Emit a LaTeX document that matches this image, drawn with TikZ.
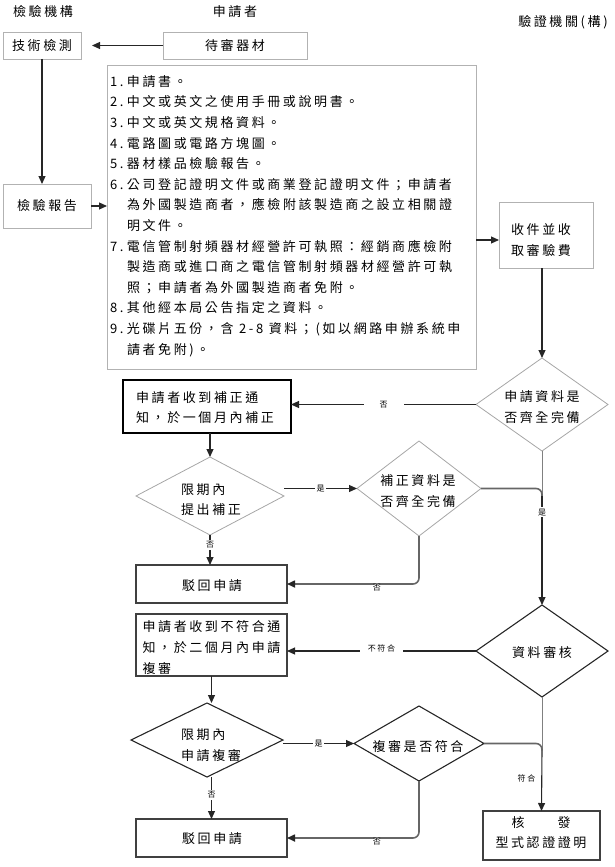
\documentclass[tikz,border=0pt]{standalone}
\usepackage{fontspec}
\setmainfont{Noto Sans CJK TC}[LetterSpace=20]
\usetikzlibrary{shapes.geometric,arrows.meta,calc}
\begin{document}
\begin{tikzpicture}[x=1pt,y=-1pt,
  every node/.style={font=\fontsize{13}{20.6}\selectfont, inner sep=0pt, outer sep=0pt, text=black},
  lbox/.style={rectangle, draw=black!30, line width=0.8pt},
  dbox/.style={rectangle, draw=black!75, line width=1.2pt},
  tbox/.style={rectangle, draw=black, line width=1.8pt},
  ldia/.style={diamond, draw=black!35, line width=0.8pt},
  ddia/.style={diamond, draw=black!85, line width=1.1pt},
  arr/.style={-{Triangle[length=8pt,width=7pt]}, line width=1.1pt, draw=black!85},
  garr/.style={line width=1.6pt, draw=black!60, rounded corners=6pt},
  gline/.style={line width=1pt, draw=black!50},
  garrh/.style={garr, -{Triangle[length=8pt,width=7pt,color=black!85]}},
  lbl/.style={font=\fontsize{8}{9}\selectfont, fill=white, inner sep=1.5pt},
  lblb/.style={font=\fontsize{8}{9}\selectfont, inner sep=1pt},
]
\useasboundingbox (0,0) rectangle (614,867);

% headers
\node (h1) at (43,12) {檢驗機構};
\node (h2) at (235,12) {申請者};
\node (h3) at (563,22) {驗證機關(構)};

% top part
\node[lbox, minimum width=78pt, minimum height=27pt] (tech) at (42,45.5) {技術檢測};
\node[lbox, minimum width=144pt, minimum height=27pt] (dev) at (235,45.5) {待審器材};
\node[lbox, minimum width=88pt, minimum height=44pt] (rep) at (47,206) {檢驗報告};
\node[lbox, minimum width=369pt, minimum height=304pt] (list) at (291.5,217) {};
\node[anchor=west, align=left] (listtxt) at (110,216) {%
\makebox[17pt][l]{1.}申請書。\\
\makebox[17pt][l]{2.}中文或英文之使用手冊或說明書。\\
\makebox[17pt][l]{3.}中文或英文規格資料。\\
\makebox[17pt][l]{4.}電路圖或電路方塊圖。\\
\makebox[17pt][l]{5.}器材樣品檢驗報告。\\
\makebox[17pt][l]{6.}公司登記證明文件或商業登記證明文件；申請者\\
\hspace*{17pt}為外國製造商者，應檢附該製造商之設立相關證\\
\hspace*{17pt}明文件。\\
\makebox[17pt][l]{7.}電信管制射頻器材經營許可執照：經銷商應檢附\\
\hspace*{17pt}製造商或進口商之電信管制射頻器材經營許可執\\
\hspace*{17pt}照；申請者為外國製造商者免附。\\
\makebox[17pt][l]{8.}其他經本局公告指定之資料。\\
\makebox[17pt][l]{9.}光碟片五份，含 2-8 資料；(如以網路申辦系統申\\
\hspace*{17pt}請者免附)。};
\node[lbox, minimum width=94pt, minimum height=66pt] (shou) at (546,235) {};
\node[align=left] (shoutxt) at (541,240) {收件並收\\取審驗費};

% first review
\node[ldia, minimum width=132pt, minimum height=93pt] (d1) at (542,404.5) {};
\node[align=center] (d1t) at (542,407) {申請資料是\\否齊全完備};
\node[tbox, minimum width=168pt, minimum height=53pt] (b1) at (207,406.5) {};
\node[align=left] (b1t) at (205,407.5) {申請者收到補正通\\知，於一個月內補正};
\node[ldia, minimum width=148pt, minimum height=78pt] (d2) at (210,496) {};
\node[align=left] (d2t) at (211,499.5) {限期內\\提出補正};
\node[ldia, minimum width=124pt, minimum height=95pt] (d3) at (419,488.5) {};
\node[align=center] (d3t) at (418,491) {補正資料是\\否齊全完備};
\node[dbox, minimum width=151pt, minimum height=38pt] (rj1) at (211.5,584) {};
\node (rj1t) at (212,586) {駁回申請};

% second review
\node[ddia, minimum width=132pt, minimum height=92pt] (d4) at (542,651) {};
\node (d4t) at (542,653) {資料審核};
\node[dbox, minimum width=151pt, minimum height=62pt] (b2) at (211.5,645) {};
\node[align=left] (b2t) at (211.5,647.5) {申請者收到不符合通\\知，於二個月內申請\\複審};
\node[ddia, minimum width=152pt, minimum height=74pt] (d5) at (207,740) {};
\node[align=left] (d5t) at (211,745) {限期內\\申請複審};
\node[ddia, minimum width=130pt, minimum height=75pt] (d6) at (419,743.5) {};
\node (d6t) at (418,747) {複審是否符合};
\node[dbox, minimum width=151pt, minimum height=38pt] (rj2) at (211.5,838) {};
\node (rj2t) at (212,839) {駁回申請};
\node[dbox, minimum width=117pt, minimum height=49pt] (hf) at (541.5,835.5) {};
\node[align=center] (hft) at (541,832.5) {核\hspace{33pt}發\\型式認證證明};

\coordinate (m1) at (542,496);
\coordinate (m2) at (542,750);

% connectors top
\draw[arr, shorten >=11pt] (dev.west) -- (tech.east);
\draw[arr] (tech.south) -- (tech.south |- rep.north);
\draw[arr] (rep.east) -- (list.west |- rep.east);
\draw[arr] (list.east |- shoutxt) -- (shou.west |- shoutxt);
\draw[arr] (shou.south -| d1.north) -- (d1.north);

% first loop
\draw[gline] (d1.south) -- (m1);
\draw[garr] (d3.east) -| (m1);
\draw[arr] (m1) -- (d4.north) node[lbl, pos=0.15] {是};
\draw[arr] (d1.west) -- (d1.west -| b1.east) node[lbl, midway, inner xsep=16pt] {否};
\draw[arr] (b1.south -| d2.north) -- (d2.north);
\draw[arr] (d2.east |- d3.west) -- (d3.west) node[lbl, midway] {是};
\draw[arr] (d2.south) -- (d2.south |- rj1.north) node[lbl, pos=0.33] {否};
\draw[garrh] (d3.south) |- (rj1.east) node[lblb, pos=0.66, yshift=-4pt, fill=white] {否};

% second loop
\draw[gline] (d4.south) -- (m2);
\draw[garr] (d6.east) -| (m2);
\draw[arr] (m2) -- (hf.north) node[lbl, pos=0.46, left=5pt] {符合};
\draw[arr] (d4.west) -- (d4.west -| b2.east) node[lbl, midway, inner xsep=8pt, inner ysep=4pt, yshift=3pt] {不符合};
\draw[arr] (b2.south) -- (b2.south |- d5.north);
\draw[arr] (d5.east |- d6.west) -- (d6.west) node[lbl, midway] {是};
\draw[arr] (rj2.north |- d5.south) -- (rj2.north) node[lbl, pos=0.43] {否};
\draw[garrh] (d6.south) |- (rj2.east) node[lblb, pos=0.66, yshift=-4pt, fill=white] {否};
\end{tikzpicture}
\end{document}
